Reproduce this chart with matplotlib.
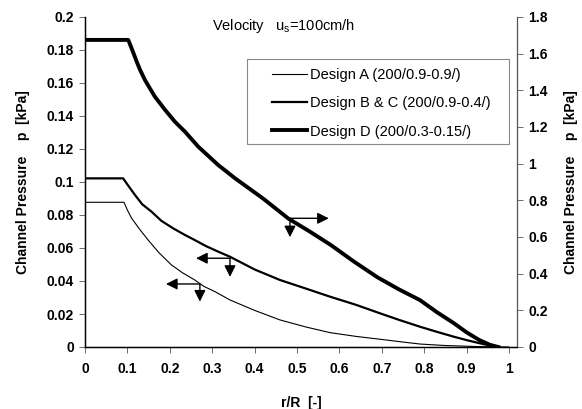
import matplotlib.pyplot as plt
from matplotlib.patches import Rectangle

plt.rcParams['font.family'] = ['Liberation Sans', 'DejaVu Sans']
plt.rcParams['mathtext.fontset'] = 'custom'
plt.rcParams['mathtext.rm'] = 'Liberation Sans'

# Design A (left axis, kPa)
xa = [0, 0.092, 0.10, 0.11, 0.13, 0.149, 0.175, 0.204, 0.23, 0.259, 0.28, 0.307, 0.342, 0.40,
      0.46, 0.52, 0.578, 0.64, 0.696, 0.75, 0.79, 0.85, 0.92, 1.0]
ya = [0.0877, 0.0877, 0.083, 0.078, 0.071, 0.0648, 0.057, 0.0497, 0.045, 0.0406, 0.0368, 0.0335,
      0.0285, 0.0222, 0.0164, 0.0122, 0.0087, 0.0064, 0.0047, 0.003, 0.0018, 0.0009, 0.0003, 0]

# Design B & C (left axis, kPa)
xb = [0, 0.09, 0.10, 0.118, 0.135, 0.157, 0.18, 0.208, 0.235, 0.259, 0.285, 0.314, 0.342, 0.40,
      0.46, 0.52, 0.578, 0.64, 0.696, 0.74, 0.79, 0.83, 0.869, 0.90, 0.932, 0.97]
yb = [0.1022, 0.1022, 0.0985, 0.0921, 0.0865, 0.082, 0.0765, 0.0719, 0.068, 0.0648, 0.0612,
      0.0578, 0.0547, 0.047, 0.0406, 0.0355, 0.0305, 0.0255, 0.0204, 0.0165, 0.0123, 0.0092,
      0.0063, 0.0042, 0.0022, 0]

# Design D (right axis, kPa)
xd = [0, 0.102, 0.110, 0.122, 0.130, 0.1415, 0.153, 0.165, 0.189, 0.212, 0.236, 0.267, 0.291,
      0.314, 0.354, 0.42, 0.48, 0.53, 0.58, 0.635, 0.69, 0.74, 0.79, 0.83, 0.87, 0.90, 0.93,
      0.955, 0.975]
yd = [1.675, 1.675, 1.629, 1.556, 1.511, 1.456, 1.411, 1.365, 1.293, 1.229, 1.174, 1.093, 1.042,
      0.993, 0.920, 0.81, 0.70, 0.63, 0.556, 0.465, 0.38, 0.315, 0.256, 0.19, 0.13, 0.08, 0.038,
      0.012, 0]

labels = ['Design A (200/0.9-0.9/)', 'Design B & C (200/0.9-0.4/)', 'Design D (200/0.3-0.15/)']

xticks = [0, 0.1, 0.2, 0.3, 0.4, 0.5, 0.6, 0.7, 0.8, 0.9, 1]
xticklabels = ['0', '0.1', '0.2', '0.3', '0.4', '0.5', '0.6', '0.7', '0.8', '0.9', '1']
yticks_left = [0, 0.02, 0.04, 0.06, 0.08, 0.1, 0.12, 0.14, 0.16, 0.18, 0.2]
yticklabels_left = ['0', '0.02', '0.04', '0.06', '0.08', '0.1', '0.12', '0.14', '0.16', '0.18', '0.2']
yticks_right = [0, 0.2, 0.4, 0.6, 0.8, 1, 1.2, 1.4, 1.6, 1.8]
yticklabels_right = ['0', '0.2', '0.4', '0.6', '0.8', '1', '1.2', '1.4', '1.6', '1.8']

# arrows: (corner x, corner y, horizontal end x, vertical end y) in left-axis units
arrows = [
    (0.4835, 0.078, 0.575, 0.0665),
    (0.342, 0.0538, 0.262, 0.0425),
    (0.271, 0.0382, 0.191, 0.0275),
]

fig = plt.figure(figsize=(5.82, 4.09), dpi=100)
ax = fig.add_axes([85 / 582, 1 - 347 / 409, (517 - 85) / 582, (347 - 17) / 409])
ax2 = ax.twinx()

la, = ax.plot(xa, ya, color='black', lw=0.8, solid_joinstyle='round')
lb, = ax.plot(xb, yb, color='black', lw=1.6, solid_joinstyle='round')
ld, = ax2.plot(xd, yd, color='black', lw=2.8, solid_joinstyle='round')

ax.set_xlim(0, 1.019)
ax.set_ylim(0, 0.2)
ax2.set_ylim(0, 1.8)

ax.set_xticks(xticks)
ax.set_xticklabels(xticklabels, fontweight='bold', fontsize=10)
ax.set_yticks(yticks_left)
ax.set_yticklabels(yticklabels_left, fontweight='bold', fontsize=10)
ax2.set_yticks(yticks_right)
ax2.set_yticklabels(yticklabels_right, fontweight='bold', fontsize=10)

for a in (ax, ax2):
    a.spines['top'].set_visible(False)
    a.tick_params(direction='out', length=4, width=0.6, color='#555555', pad=4)
ax.tick_params(axis='x', pad=7)
ax.spines['left'].set_linewidth(1.0)
ax.spines['bottom'].set_linewidth(1.0)
ax2.spines['right'].set_color('#555555')

ax.set_xlabel('r/R  [-]', fontweight='bold', fontsize=10, labelpad=14)
ax.set_ylabel('Channel Pressure    p  [kPa]', fontweight='bold', fontsize=10, labelpad=12)
ax2.set_ylabel('Channel Pressure    p  [kPa]', fontweight='bold', fontsize=10, labelpad=12,
               rotation=90)

for cx, cy, hx, vy in arrows:
    props = dict(arrowstyle='-|>', color='black', lw=1.0, mutation_scale=17,
                 shrinkA=0, shrinkB=0)
    ax.annotate('', xy=(hx, cy), xytext=(cx, cy), arrowprops=props)
    ax.annotate('', xy=(cx, vy), xytext=(cx, cy), arrowprops=props)

fig.text(212 / 582, 1 - 26 / 409, r'Velocity   u$_{\mathrm{s}}$=100cm/h', fontsize=10.5, va='center')

# legend box
fig.patches.append(Rectangle((247 / 582, 1 - 144 / 409), (509 - 247) / 582, (144 - 59) / 409,
                             transform=fig.transFigure, fill=False, edgecolor='#888888', lw=0.8))
fig.legend([la, lb, ld], labels, loc='upper left', bbox_to_anchor=(272 / 582, 1 - 68 / 409),
           frameon=False, fontsize=10.5, handlelength=2.4, handletextpad=0.2,
           labelspacing=0.98, borderpad=0, borderaxespad=0)

fig.savefig('out.png', dpi=100)
